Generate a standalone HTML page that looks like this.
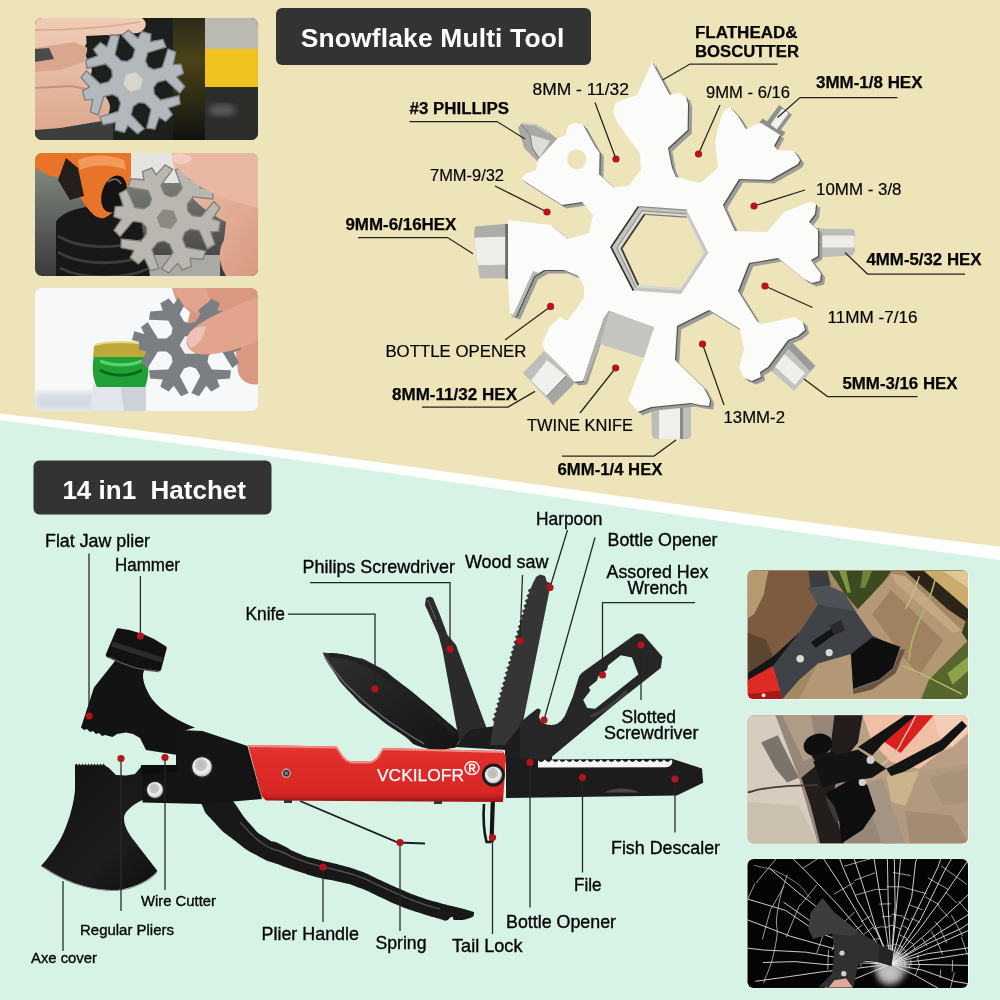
<!DOCTYPE html>
<html lang="en"><head><meta charset="utf-8"><title>Snowflake Multi Tool and 14 in1 Hatchet</title>
<style>
html,body{margin:0;padding:0;background:#eee4ba;}
body{width:1000px;height:1000px;overflow:hidden;}
svg{display:block;font-family:"Liberation Sans",sans-serif;}
</style></head><body>
<svg width="1000" height="1000" viewBox="0 0 1000 1000">
<rect x="0" y="0" width="1000" height="1000" fill="#eee4ba"/>
<path d="M0,413.6 C333.3,451.7 666.7,506.5 1000,546.6 L1000,1000 L0,1000 Z" fill="#ffffff"/>
<path d="M0,420.2 C333.3,462.3 666.7,515.3 1000,560 L1000,1000 L0,1000 Z" fill="#d6f3e6"/>
<rect x="276" y="8" width="315" height="57" rx="6" fill="#333333"/>
<g opacity="0.996"><text x="300.8" y="47.4" font-size="26.4" font-weight="700" fill="#fff" textLength="263.5" lengthAdjust="spacing">Snowflake Multi Tool</text></g>
<rect x="33.5" y="460.5" width="238" height="54" rx="6" fill="#333333"/>
<g opacity="0.996"><text x="62.4" y="498.6" font-size="26" font-weight="700" fill="#fff" xml:space="preserve">14 in1  Hatchet</text></g>
<defs><linearGradient id="bitg" x1="0" y1="0" x2="0" y2="1"><stop offset="0" stop-color="#c9c9c6"/><stop offset="0.25" stop-color="#efefec"/><stop offset="0.7" stop-color="#e4e4e0"/><stop offset="1" stop-color="#b4b4b0"/></linearGradient><linearGradient id="bitv" x1="0" y1="0" x2="1" y2="0"><stop offset="0" stop-color="#bdbdba"/><stop offset="0.3" stop-color="#f0f0ee"/><stop offset="0.7" stop-color="#e6e6e3"/><stop offset="1" stop-color="#b0b0ad"/></linearGradient></defs>
<path d="M475,226.4 L507,224 L508.5,278 L479.8,278.6 L476,252 L473.8,239.6 Z" fill="#b9b9b5"/>
<path d="M473.9,237.6 L507,236.6 L507.5,264.4 L477.7,265.2 L476,252 Z" fill="#eeeeea"/>
<path d="M475,226.4 L507,224 L507,236.6 L473.9,237.6 Z" fill="#adada9"/>
<rect x="505.2" y="224" width="3.2" height="55" fill="#6c6c68"/>
<path d="M815,228.5 L853,229 L855,232 L855,252 L852,255.5 L815,257.5 Z" fill="#bdbdb9"/>
<rect x="818" y="235.5" width="36.5" height="12" fill="#ececea"/>
<rect x="815" y="228" width="4.5" height="30" fill="#9a9a96"/>
<path d="M651,405 L691,402 L691,437 L687,439 L655,439 L652,436 Z" fill="#bdbdb9"/>
<rect x="659" y="405" width="21" height="34" fill="#efefec"/>
<rect x="680" y="404" width="3" height="35" fill="#8a8a86"/>
<path d="M759.5,122.5 L782.5,136.5 L785.5,132.5 L762.5,118.5 Z" fill="#8e8e8a"/>
<path d="M766.4,122.3 L779.2,105.1 L792,114.7 L779.2,131.9 Z" fill="#90908c"/>
<path d="M770.5,124.5 L782.2,108.6 L788.5,113.3 L776.8,129.2 Z" fill="#f1f1ee"/>
<path d="M787,338 L816,366 L794,391 L767,367 Z" fill="#c2c2be"/>
<path d="M780,350 L805,373 L795,385 L771,363 Z" fill="#eeeeea"/>
<path d="M790,340 L815,366 L810,371 L785,345 Z" fill="#9a9a96"/>
<path d="M544,351 L523,373 L553,405 L576,381.7 Z" fill="#bebeba"/>
<path d="M566,376 L576,381.7 L553,405 L547,396 Z" fill="#a6a6a2"/>
<path d="M547,360 L531,380.6 L547,396 L566,376 Z" fill="#f0f0ec"/>
<path d="M566,376 L547,396" stroke="#6e6e6a" stroke-width="1" fill="none"/>
<path d="M518,127.6 L521.6,123.4 L536,124 L548,131.2 L557.5,139 L538,162 L524,148 Z" fill="#a9a9a5"/>
<path d="M530,134.8 L550.4,140.8 L539.6,157.6 L532.4,148 Z" fill="#dcdcd8"/>
<path d="M521.6,124.5 L530,134.8 L532.4,148 L539,158" stroke="#7c7c78" stroke-width="1" fill="none"/>
<path d="M523,124 L536,125 L549,133" stroke="#c9c9c5" stroke-width="1.6" fill="none"/>
<path d="M652.0,62.0 L669.6,94.4 L680.0,93.0 L686.0,97.0 L688.0,104.0 L687.6,130.0 L668.0,148.0 L672.0,168.0 L676.0,177.0 L700.0,183.0 L718.0,168.0 L715.0,142.0 L718.0,128.0 L723.0,112.0 L730.0,107.0 L738.0,116.0 L746.0,129.0 L757.0,124.0 L762.0,123.6 L780.0,135.0 L774.0,146.0 L778.0,150.0 L794.0,151.0 L800.0,160.0 L798.0,164.0 L770.0,180.0 L739.0,179.0 L723.0,205.0 L735.0,231.0 L767.0,232.0 L784.0,212.0 L810.0,202.0 L816.0,204.0 L815.0,214.0 L809.0,222.0 L818.0,230.0 L818.0,256.0 L811.0,260.0 L821.0,274.0 L820.0,281.0 L812.0,283.0 L804.0,279.0 L778.0,258.0 L749.0,263.0 L738.0,291.0 L757.0,321.0 L762.0,324.0 L795.0,317.0 L803.0,322.0 L805.0,330.0 L798.0,336.0 L788.0,340.0 L768.0,367.0 L760.0,372.0 L761.0,377.0 L752.0,381.0 L744.0,378.0 L739.0,368.0 L744.0,350.0 L740.0,329.0 L709.0,310.0 L677.0,326.0 L675.0,360.0 L704.0,388.0 L710.0,400.0 L709.0,406.0 L700.0,405.0 L691.0,403.0 L651.0,407.0 L638.0,412.0 L628.0,400.0 L644.0,358.0 L654.0,328.0 L609.0,311.0 L604.0,318.0 L583.0,381.0 L574.0,382.0 L568.0,374.0 L545.0,351.0 L542.0,344.0 L550.0,326.0 L560.0,317.0 L566.0,320.0 L568.0,320.0 L584.0,298.0 L584.0,286.0 L578.0,276.0 L564.0,270.0 L544.0,270.0 L534.0,276.0 L516.0,316.0 L510.0,314.0 L508.0,278.0 L508.0,220.0 L551.0,225.0 L568.0,239.0 L589.0,233.0 L593.0,215.0 L582.0,202.0 L562.0,205.0 L521.0,179.0 L525.0,174.0 L536.0,170.0 L538.0,160.0 L557.0,139.0 L566.0,135.0 L568.0,126.0 L574.0,123.0 L582.8,124.6 L596.0,148.0 L599.6,152.8 L599.2,174.4 L614.0,187.6 L628.0,186.0 L641.0,170.0 L640.0,154.0 L618.0,124.0 L613.0,112.0 L615.6,102.4 L628.0,98.0 L637.0,95.6 Z" fill="#9c9c98" transform="translate(4.2,3.4)"/>
<path d="M652.0,62.0 L669.6,94.4 L680.0,93.0 L686.0,97.0 L688.0,104.0 L687.6,130.0 L668.0,148.0 L672.0,168.0 L676.0,177.0 L700.0,183.0 L718.0,168.0 L715.0,142.0 L718.0,128.0 L723.0,112.0 L730.0,107.0 L738.0,116.0 L746.0,129.0 L757.0,124.0 L762.0,123.6 L780.0,135.0 L774.0,146.0 L778.0,150.0 L794.0,151.0 L800.0,160.0 L798.0,164.0 L770.0,180.0 L739.0,179.0 L723.0,205.0 L735.0,231.0 L767.0,232.0 L784.0,212.0 L810.0,202.0 L816.0,204.0 L815.0,214.0 L809.0,222.0 L818.0,230.0 L818.0,256.0 L811.0,260.0 L821.0,274.0 L820.0,281.0 L812.0,283.0 L804.0,279.0 L778.0,258.0 L749.0,263.0 L738.0,291.0 L757.0,321.0 L762.0,324.0 L795.0,317.0 L803.0,322.0 L805.0,330.0 L798.0,336.0 L788.0,340.0 L768.0,367.0 L760.0,372.0 L761.0,377.0 L752.0,381.0 L744.0,378.0 L739.0,368.0 L744.0,350.0 L740.0,329.0 L709.0,310.0 L677.0,326.0 L675.0,360.0 L704.0,388.0 L710.0,400.0 L709.0,406.0 L700.0,405.0 L691.0,403.0 L651.0,407.0 L638.0,412.0 L628.0,400.0 L644.0,358.0 L654.0,328.0 L609.0,311.0 L604.0,318.0 L583.0,381.0 L574.0,382.0 L568.0,374.0 L545.0,351.0 L542.0,344.0 L550.0,326.0 L560.0,317.0 L566.0,320.0 L568.0,320.0 L584.0,298.0 L584.0,286.0 L578.0,276.0 L564.0,270.0 L544.0,270.0 L534.0,276.0 L516.0,316.0 L510.0,314.0 L508.0,278.0 L508.0,220.0 L551.0,225.0 L568.0,239.0 L589.0,233.0 L593.0,215.0 L582.0,202.0 L562.0,205.0 L521.0,179.0 L525.0,174.0 L536.0,170.0 L538.0,160.0 L557.0,139.0 L566.0,135.0 L568.0,126.0 L574.0,123.0 L582.8,124.6 L596.0,148.0 L599.6,152.8 L599.2,174.4 L614.0,187.6 L628.0,186.0 L641.0,170.0 L640.0,154.0 L618.0,124.0 L613.0,112.0 L615.6,102.4 L628.0,98.0 L637.0,95.6 Z" fill="#55554f" transform="translate(1.2,1)"/>
<path d="M652.0,62.0 L669.6,94.4 L680.0,93.0 L686.0,97.0 L688.0,104.0 L687.6,130.0 L668.0,148.0 L672.0,168.0 L676.0,177.0 L700.0,183.0 L718.0,168.0 L715.0,142.0 L718.0,128.0 L723.0,112.0 L730.0,107.0 L738.0,116.0 L746.0,129.0 L757.0,124.0 L762.0,123.6 L780.0,135.0 L774.0,146.0 L778.0,150.0 L794.0,151.0 L800.0,160.0 L798.0,164.0 L770.0,180.0 L739.0,179.0 L723.0,205.0 L735.0,231.0 L767.0,232.0 L784.0,212.0 L810.0,202.0 L816.0,204.0 L815.0,214.0 L809.0,222.0 L818.0,230.0 L818.0,256.0 L811.0,260.0 L821.0,274.0 L820.0,281.0 L812.0,283.0 L804.0,279.0 L778.0,258.0 L749.0,263.0 L738.0,291.0 L757.0,321.0 L762.0,324.0 L795.0,317.0 L803.0,322.0 L805.0,330.0 L798.0,336.0 L788.0,340.0 L768.0,367.0 L760.0,372.0 L761.0,377.0 L752.0,381.0 L744.0,378.0 L739.0,368.0 L744.0,350.0 L740.0,329.0 L709.0,310.0 L677.0,326.0 L675.0,360.0 L704.0,388.0 L710.0,400.0 L709.0,406.0 L700.0,405.0 L691.0,403.0 L651.0,407.0 L638.0,412.0 L628.0,400.0 L644.0,358.0 L654.0,328.0 L609.0,311.0 L604.0,318.0 L583.0,381.0 L574.0,382.0 L568.0,374.0 L545.0,351.0 L542.0,344.0 L550.0,326.0 L560.0,317.0 L566.0,320.0 L568.0,320.0 L584.0,298.0 L584.0,286.0 L578.0,276.0 L564.0,270.0 L544.0,270.0 L534.0,276.0 L516.0,316.0 L510.0,314.0 L508.0,278.0 L508.0,220.0 L551.0,225.0 L568.0,239.0 L589.0,233.0 L593.0,215.0 L582.0,202.0 L562.0,205.0 L521.0,179.0 L525.0,174.0 L536.0,170.0 L538.0,160.0 L557.0,139.0 L566.0,135.0 L568.0,126.0 L574.0,123.0 L582.8,124.6 L596.0,148.0 L599.6,152.8 L599.2,174.4 L614.0,187.6 L628.0,186.0 L641.0,170.0 L640.0,154.0 L618.0,124.0 L613.0,112.0 L615.6,102.4 L628.0,98.0 L637.0,95.6 Z" fill="#fbfbf9"/>
<path d="M511.6,318.2 L516,316 L534,276 L538,272.5 L533,271 L527.2,284 Z" fill="#b6b6b2"/>
<path d="M609,311 L654,327 L644,358 L600,344 Z" fill="#c4c4c0"/>
<path d="M609,311 L600,344 L585,382 L583,381 L604,318 Z" fill="#b2b2ae"/>
<path d="M611.0,247.2 L638.3,206.6 L686.6,210.1 L708.3,252.8 L681.0,294.1 L633.4,290.6 Z" fill="#c3c3bf"/>
<path d="M638.3,206.6 L686.6,210.1" stroke="#8e8e8a" stroke-width="1.2" fill="none"/>
<path d="M633.4,290.6 L611,247.2 L638.3,206.6" stroke="#2e2e2c" stroke-width="1.6" fill="none" stroke-linejoin="round"/>
<path d="M616.8,248.0 L641.8,210.8 L686.6,213.9 L705.6,252.8 L681.0,290.6 L636.1,287.5 Z" fill="#d6d6d2"/>
<path d="M636.1,287.5 L616.8,248.0 L641.8,210.8 L686.6,213.9" stroke="#8a8a86" stroke-width="1" fill="none"/>
<path d="M621.5,248.6 L644.6,214.3 L686.6,217.1 L703.4,252.8 L681.0,287.8 L638.3,285.0 Z" fill="#eee4ba"/>
<path d="M644.6,214.3 L686.6,217.1" stroke="#7c7c78" stroke-width="1.2" fill="none"/>
<path d="M638.3,285 L621.5,248.6 L644.6,214.3" stroke="#3c3c38" stroke-width="1.8" fill="none" stroke-linejoin="round"/>
<ellipse cx="576.8" cy="159.4" rx="9.6" ry="10.2" fill="#eee4ba"/>
<defs><linearGradient id="redg" x1="0" y1="0" x2="0" y2="1"><stop offset="0" stop-color="#e8403a"/><stop offset="0.12" stop-color="#e02f2c"/><stop offset="0.85" stop-color="#d82624"/><stop offset="1" stop-color="#9c1414"/></linearGradient><radialGradient id="rivet" cx="0.45" cy="0.4" r="0.62"><stop offset="0" stop-color="#b9b9b9"/><stop offset="0.45" stop-color="#c6c6c6"/><stop offset="0.6" stop-color="#f4f4f4"/><stop offset="0.85" stop-color="#d2d2d2"/><stop offset="1" stop-color="#8a8a8a"/></radialGradient><linearGradient id="knifeg" x1="0" y1="0" x2="1" y2="1"><stop offset="0" stop-color="#303031"/><stop offset="0.6" stop-color="#1e1e1f"/><stop offset="1" stop-color="#141414"/></linearGradient><linearGradient id="axeg" x1="0" y1="0" x2="1" y2="1"><stop offset="0" stop-color="#111"/><stop offset="0.6" stop-color="#1d1d1f"/><stop offset="1" stop-color="#0c0c0c"/></linearGradient></defs>
<path d="M222.0,790.0 C225.3,793.3 222.7,788.7 232.0,800.0 C241.3,811.3 238.7,811.3 250.0,824.0 C261.3,836.7 256.0,831.3 266.0,838.0 C276.0,844.7 268.7,838.7 280.0,844.0 C291.3,849.3 286.7,848.7 300.0,854.0 C313.3,859.3 306.7,856.3 320.0,860.0 C333.3,863.7 326.7,861.3 340.0,865.0 C353.3,868.7 346.7,866.0 360.0,871.0 C373.3,876.0 366.7,874.0 380.0,880.0 C393.3,886.0 386.7,883.3 400.0,889.0 C413.3,894.7 406.7,892.3 420.0,897.0 C433.3,901.7 426.7,899.3 440.0,903.0 C453.3,906.7 448.7,905.0 460.0,908.0 C471.3,911.0 469.3,910.7 474.0,912.0 L474.0,914.0 C472.7,915.3 476.0,916.0 470.0,918.0 C464.0,920.0 462.0,920.3 456.0,920.0 C450.0,919.7 455.3,916.8 452.0,917.0 C448.7,917.2 450.0,919.8 446.0,920.5 C442.0,921.2 448.7,921.5 440.0,919.0 C431.3,916.5 433.3,917.3 420.0,913.0 C406.7,908.7 413.3,911.3 400.0,906.0 C386.7,900.7 393.3,903.0 380.0,897.0 C366.7,891.0 373.3,893.0 360.0,888.0 C346.7,883.0 353.3,885.3 340.0,882.0 C326.7,878.7 333.3,881.3 320.0,878.0 C306.7,874.7 313.3,876.3 300.0,872.0 C286.7,867.7 294.0,870.3 280.0,865.0 C266.0,859.7 273.3,864.3 258.0,856.0 C242.7,847.7 248.7,851.3 234.0,840.0 C219.3,828.7 224.7,833.7 214.0,822.0 C203.3,810.3 206.7,815.7 202.0,805.0 C197.3,794.3 200.7,795.0 200.0,790.0 Z" fill="#181818"/>
<path d="M240.0,822.0 C247.3,829.0 248.0,833.0 262.0,843.0 C276.0,853.0 269.3,846.3 282.0,852.0 C294.7,857.7 287.3,855.3 300.0,860.0 C312.7,864.7 306.7,862.3 320.0,866.0 C333.3,869.7 326.7,867.3 340.0,871.0 C353.3,874.7 346.7,872.0 360.0,877.0 C373.3,882.0 366.7,880.0 380.0,886.0 C393.3,892.0 386.7,889.3 400.0,895.0 C413.3,900.7 406.7,898.3 420.0,903.0 C433.3,907.7 433.3,907.0 440.0,909.0" stroke="#4c4e52" stroke-width="1.5" fill="none"/>
<path d="M300,801 L398,842.5 L425,843.5" stroke="#1c1c1c" stroke-width="1.8" fill="none"/>
<path d="M322.5,652.5 C331.7,653.7 332.5,651.8 350.0,656.0 C367.5,660.2 358.3,656.2 375.0,665.0 C391.7,673.8 383.3,670.0 400.0,682.5 C416.7,695.0 408.3,688.7 425.0,702.5 C441.7,716.3 437.3,713.2 450.0,724.0 C462.7,734.8 458.7,731.3 463.0,735.0 L455.0,748.0 C445.0,748.0 443.3,753.0 425.0,748.0 C406.7,743.0 416.7,744.0 400.0,733.0 C383.3,722.0 391.7,728.5 375.0,715.0 C358.3,701.5 364.2,707.5 350.0,692.5 C335.8,677.5 341.7,683.3 332.5,670.0 C323.3,656.7 325.8,658.3 322.5,652.5 Z" fill="url(#knifeg)"/>
<path d="M325.0,657.0 C329.3,663.0 328.3,663.3 338.0,675.0 C347.7,686.7 340.7,679.3 354.0,692.0 C367.3,704.7 362.0,700.3 378.0,713.0 C394.0,725.7 386.7,719.7 402.0,730.0 C417.3,740.3 416.7,739.3 424.0,744.0" stroke="#6a6e72" stroke-width="1.3" fill="none"/>
<path d="M330.0,655.0 C340.0,657.3 338.3,652.7 360.0,662.0 C381.7,671.3 371.7,666.3 395.0,683.0 C418.3,699.7 410.0,695.0 430.0,712.0 C450.0,729.0 446.7,726.7 455.0,734.0" stroke="#1f2022" stroke-width="4" fill="none"/>
<path d="M426,598 L430,596.5 L433,598 L440,615 L447.5,635 L456,645 L488,732 L476,748 L460,746 L442.5,650 L438.5,635 L425,605 Z" fill="#2b2b2c"/>
<path d="M428,600 L436,620" stroke="#666" stroke-width="1" fill="none"/>
<path d="M455,747 L470,730 L520,722 L552,728 L552,762 L505,762 L505,750 Z" fill="#1d1d1e"/>
<path d="M540.0,574.5 L545.0,576.0 L547.0,582.0 L551.0,583.0 L523.0,722.0 L505.0,745.0 L490.0,745.0 L494.0,722.0 L492.1,719.0 L495.4,716.8 L493.5,713.9 L496.8,711.7 L495.0,708.7 L498.3,706.5 L496.4,703.6 L499.7,701.4 L497.8,698.4 L501.1,696.2 L499.2,693.3 L502.5,691.1 L500.6,688.1 L504.0,685.9 L502.1,682.9 L505.4,680.8 L503.5,677.8 L506.8,675.6 L504.9,672.6 L508.2,670.5 L506.3,667.5 L509.7,665.3 L507.8,662.3 L511.1,660.2 L509.2,657.2 L512.5,655.0 L510.6,652.0 L513.9,649.8 L512.0,646.9 L515.3,644.7 L513.5,641.7 L516.8,639.5 L514.9,636.6 L518.2,634.4 L516.3,631.4 L519.6,629.2 L517.7,626.3 L521.0,624.1 L519.1,621.1 L522.5,618.9 L520.6,615.9 L523.9,613.8 L522.0,610.8 L525.3,608.6 L523.4,605.6 L526.7,603.5 L524.8,600.5 L528.2,598.3 L526.3,595.3 L529.6,593.2 L527.7,590.2 L531.0,588.0 L533.0,583.0 L536.0,577.0 Z" fill="#353536"/>
<path fill-rule="evenodd" d="M520,722.4 L529.6,714.4 L536.6,709 Q539.5,707.5 540.8,710.4 L539.2,716 Q539.5,721 542.4,722.4 Q549,726.5 556.8,724 Q562,721 564.8,716 L572.8,696.8 L579.2,676 Q581,673 584,671.2 L635.2,634.4 Q639,632.5 643.2,634.4 L662.4,656.8 L660.8,668 L616,703.2 L547.2,760.8 L520,760.8 Z M583.2,700 L590.4,690.4 L588.8,687.2 L596.8,680.8 L598.4,676 L607.2,669.6 L608,665.6 L620.8,655.2 L632,657.6 L638.4,674.4 L595.2,708.8 L587.2,708 Z" fill="#262627"/>
<path d="M592,716 C602,712 614,704 626,692" stroke="#3c3c3e" stroke-width="3.5" fill="none" stroke-linecap="round"/>
<path d="M506,757 L537,759.5 L672,758.8 L702,768.4 L703.2,782.8 L676.8,795.4 L506,798 Z" fill="#1c1c1d"/>
<path d="M538.0,767.6 L538.0,760.2 Q541.5,764.2 545.0,759.6 Q548.5,764.2 552.0,759.6 Q555.5,764.2 559.0,759.6 Q562.5,764.2 566.0,759.6 Q569.5,764.2 573.0,759.6 Q576.5,764.2 580.0,759.6 Q583.5,764.2 587.0,759.6 Q590.5,764.2 594.0,759.6 Q597.5,764.2 601.0,759.6 Q604.5,764.2 608.0,759.6 Q611.5,764.2 615.0,759.6 Q618.5,764.2 622.0,759.6 Q625.5,764.2 629.0,759.6 Q632.5,764.2 636.0,759.6 Q639.5,764.2 643.0,759.6 Q646.5,764.2 650.0,759.6 Q653.5,764.2 657.0,759.6 Q660.5,764.2 664.0,759.6 Q667.5,764.2 671.0,759.6 Q673.5,761 671.5,764.5 Q670,767 666,767.2 Z" fill="#f6f6f6"/>
<path d="M604,792.5 Q621,784.5 640,792.5 Z" fill="#48484a"/>
<path d="M493.5,780 L491.5,842" stroke="#141414" stroke-width="4.2" fill="none"/>
<path d="M491.5,842 L486.5,842 C484,832 483,818 484,804" stroke="#161616" stroke-width="2.6" fill="none" stroke-linejoin="round"/>
<path d="M248,745 L336.5,746.5 L342.5,755.5 C346,760 349,761.5 353,761.5 L368,761.5 C373,761.5 376,759 378.5,755.5 L383,748 L503,751 L506,757 L503,802 L266,800.5 L261.5,796 Z" fill="url(#redg)"/>
<g opacity="0.996"><text x="377" y="781.3" font-size="16.8" fill="#fff" stroke="#fff" stroke-width="0.25" textLength="87" lengthAdjust="spacingAndGlyphs">VCKILOFR</text>
<text x="464.2" y="775" font-size="21" fill="#fff" stroke="#fff" stroke-width="0.3">®</text></g>
<path d="M248.5,746 L336.5,747.5 L342.5,756.5 C346,761 349,762.5 353,762.5 L368,762.5 C373,762.5 376,760 378.5,756.5 L383,749 L503,752" stroke="#f08a80" stroke-width="2" fill="none"/>
<circle cx="286.3" cy="773.2" r="4.6" fill="#c9b4b0"/><circle cx="286.3" cy="773.2" r="3.4" fill="#3a3434"/><path d="M284.4,771.6 L288.2,774.8 M288,771.4 L284.6,775" stroke="#b8b0b0" stroke-width="0.9"/>
<rect x="284" y="800" width="8" height="3" fill="#333"/><rect x="434" y="801" width="8" height="3" fill="#333"/>
<circle cx="493.4" cy="775" r="11.5" fill="#1c1c1c"/><circle cx="493.4" cy="775" r="8.6" fill="url(#rivet)"/>
<path d="M75,765 L76.5,763.6 L78.0,765.4 L79.5,763.6 L81.0,765.4 L82.5,763.6 L84.0,765.4 L85.5,763.6 L87.0,765.4 L88.5,763.6 L90.0,765.4 L91.5,763.6 L93.0,765.4 L94.5,763.6 L96.0,765.4 L97.5,763.6 L99.0,765.4 L100.5,763.6 L102.0,765.4 L103.5,763.6 L105.0,765.4  L109,768 L116,775 L126,775.5 L135,774 L142.5,765 L177,765 L177,800 L142.5,800 C132,805 124,812 124,818 C124,826 128,832 132,838 L157.5,871 C150,880 135,887 122,889.5 C100,892 70,886 41,866 C48,858 58,845 63,834 C70,818 74,802 75,790 Z" fill="url(#axeg)"/>
<path d="M43,867 C70,886 100,892.5 122,890 C135,888 150,881 157,872" stroke="#8a8d90" stroke-width="1.1" fill="none"/>
<path d="M121,776 L121,890" stroke="#2c2c2e" stroke-width="1.5" fill="none"/>
<path d="M115,661 L94,687.5 L81,727.5 L84,730 L87,729 L90,732 L93,731 L96,734 L99,733 L102,736 L105,735 L112.5,737 L117,734 L126,732.5 L133,734 L140,738 L143,744 L146,750 L177.5,755 L177.5,732.5 L195,727.5 C180,722 162,712 152,699 C146,690 143,682 143,676 C143,670 146,668 149,668 L120,655 Z" fill="#131313"/>
<path d="M118.5,630.5 Q143,633 164.5,648 L159,669 Q132,668 108,655 Z" fill="#121212" stroke="#121212" stroke-width="4.5" stroke-linejoin="round"/>
<path d="M109,657 Q132,670 159,671.5" stroke="#5c5e60" stroke-width="1.4" fill="none"/>
<path d="M112,644 Q137,652 162,660" stroke="#2c2c2e" stroke-width="5" fill="none"/>
<path d="M180,730 L202.5,731 L247.5,746 L262,799 L205,804 L142.5,802.5 L142.5,775 L176,770 L176,732 Z" fill="#141414"/>
<path d="M141,765 L177,765 L177,771 L141,775 Z" fill="#0d0d0d"/>
<circle cx="202" cy="767" r="11.5" fill="#222"/><circle cx="202" cy="767" r="9.8" fill="url(#rivet)"/>
<circle cx="155" cy="790" r="9.6" fill="#222"/><circle cx="155" cy="790" r="8" fill="url(#rivet)"/>
<defs><clipPath id="cp1"><rect x="35" y="18" width="223" height="122" rx="7"/></clipPath><clipPath id="cp2"><rect x="35" y="153" width="223" height="123" rx="7"/></clipPath><clipPath id="cp3"><rect x="35" y="288" width="223" height="123" rx="7"/></clipPath><clipPath id="cp4"><rect x="747.5" y="570" width="220.5" height="129" rx="6"/></clipPath><clipPath id="cp5"><rect x="747.5" y="715" width="220.5" height="128.5" rx="6"/></clipPath><clipPath id="cp6"><rect x="747.5" y="859" width="220.5" height="129" rx="6"/></clipPath><linearGradient id="skin" x1="0" y1="0" x2="0" y2="1"><stop offset="0" stop-color="#f0cdb8"/><stop offset="1" stop-color="#dca98e"/></linearGradient><linearGradient id="skin2" x1="0" y1="0" x2="1" y2="1"><stop offset="0" stop-color="#efc4ae"/><stop offset="1" stop-color="#d89a80"/></linearGradient><filter id="bl1" x="-10%" y="-10%" width="120%" height="120%"><feGaussianBlur stdDeviation="1.2"/></filter><filter id="bl3" x="-10%" y="-10%" width="120%" height="120%"><feGaussianBlur stdDeviation="3"/></filter></defs>
<g clip-path="url(#cp1)">
<rect x="35" y="18" width="224" height="123" fill="#1d1f1d"/>
<defs><linearGradient id="olv" x1="0" y1="0" x2="0" y2="1"><stop offset="0" stop-color="#2c2a18"/><stop offset="0.35" stop-color="#4a4218"/><stop offset="0.7" stop-color="#2a2814"/><stop offset="1" stop-color="#111"/></linearGradient></defs>
<rect x="173" y="18" width="33" height="123" fill="url(#olv)"/>
<rect x="205" y="18" width="54" height="32" fill="#babab3"/>
<rect x="205" y="49" width="54" height="39" fill="#f0c21e"/>
<rect x="205" y="87" width="54" height="54" fill="#2b2d2b"/>
<ellipse cx="222" cy="110" rx="14" ry="6" fill="#5a5a58" filter="url(#bl3)"/>
<rect x="35" y="122" width="78" height="19" fill="#3c3e3e"/>
<rect x="35" y="50" width="16" height="14" fill="#4a4c4c"/>
<path d="M35,18 L142,18 C148,22 147,30 138,33 L100,36 L86,44 C82,52 88,60 92,70 L88,88 C100,90 108,96 110,106 C110,116 104,122 96,122 L60,128 L35,130 Z" fill="url(#skin)"/>
<path d="M35,48 L74,42 L88,48 L84,62 L60,70 L35,72 Z" fill="#d9a78e"/>
<path d="M35,88 L70,86 L92,90" stroke="#c99278" stroke-width="2" fill="none"/>
<path d="M35,49 L49,48 L54,59 L35,62 Z" fill="#4a4a48"/>
<path d="M86,36 L108,35 L106,50 L88,57 Z" fill="#1d1f1d"/>
<path d="M35,30 C70,30 110,27 140,22" stroke="#d8a890" stroke-width="1.5" fill="none"/>
<g transform="translate(133,82) rotate(-15)"><path d="M23.5,-6.6 L32.1,-6.6 L42.3,-22.9 L49.0,-17.8 L43.4,-6.4 L51.0,-4.8 L51.0,4.8 L43.4,6.4 L49.0,17.8 L42.3,22.9 L32.1,6.6 L23.5,6.6 L18.6,10.7 L17.5,17.0 L21.8,24.5 L41.0,25.2 L39.9,33.5 L27.2,34.4 L29.7,41.7 L21.3,46.6 L16.2,40.7 L9.0,51.3 L1.3,48.1 L10.3,31.1 L6.0,23.6 L0.0,21.4 L-6.0,23.6 L-10.3,31.1 L-1.3,48.1 L-9.0,51.3 L-16.2,40.7 L-21.3,46.6 L-29.7,41.7 L-27.2,34.4 L-39.9,33.5 L-41.0,25.2 L-21.8,24.5 L-17.5,17.0 L-18.6,10.7 L-23.5,6.6 L-32.1,6.6 L-42.3,23.0 L-49.0,17.9 L-43.4,6.4 L-51.0,4.8 L-51.0,-4.8 L-43.4,-6.4 L-49.0,-17.8 L-42.3,-22.9 L-32.1,-6.6 L-23.5,-6.6 L-18.6,-10.7 L-17.5,-17.0 L-21.8,-24.5 L-41.0,-25.2 L-39.9,-33.5 L-27.2,-34.4 L-29.7,-41.7 L-21.3,-46.6 L-16.2,-40.7 L-9.0,-51.3 L-1.3,-48.1 L-10.3,-31.1 L-6.0,-23.6 L-0.0,-21.4 L6.0,-23.6 L10.3,-31.1 L1.3,-48.1 L9.0,-51.3 L16.2,-40.7 L21.3,-46.6 L29.7,-41.7 L27.2,-34.4 L39.9,-33.5 L41.0,-25.2 L21.8,-24.5 L17.5,-17.0 L18.6,-10.7 Z" fill="#b3b8bc" stroke="#7d8286" stroke-width="1.4" stroke-linejoin="round"/><path d="M10.2,0.0 L5.1,8.8 L-5.1,8.8 L-10.2,0.0 L-5.1,-8.8 L5.1,-8.8 Z" fill="#d8d6ca"/></g>
</g>
<g clip-path="url(#cp2)">
<defs><linearGradient id="p2bg" x1="0" y1="0" x2="0" y2="1"><stop offset="0" stop-color="#8a9486"/><stop offset="0.4" stop-color="#6a6e6a"/><stop offset="1" stop-color="#3a3a3a"/></linearGradient></defs>
<rect x="35" y="153" width="224" height="123" fill="url(#p2bg)"/>
<rect x="130" y="153" width="50" height="30" fill="#e4e4e0"/>
<rect x="140" y="255" width="80" height="21" fill="#a9a9a6"/>
<path d="M56,222 C66,204 120,200 140,214 L150,276 L56,276 Z" fill="#181818"/>
<path d="M58,236 C80,250 120,250 146,238 M58,252 C80,266 124,266 148,254 M60,268 C84,280 124,280 150,268" stroke="#3c3c3c" stroke-width="3" fill="none"/>
<path d="M35,153 L131,153 L131,176 C126,196 116,214 104,218 C96,220 88,210 82,200 L62,178 L50,176 L35,168 Z" fill="#e8742a"/>
<path d="M66,158 L78,168 L84,196 L70,200 L58,180 Z" fill="#241f1c"/>
<path d="M78,160 C90,154 110,154 124,160 L126,170 C112,164 92,164 80,170 Z" fill="#f29a5a"/>
<ellipse cx="114" cy="194" rx="12" ry="19" transform="rotate(18 114 194)" fill="#141414"/>
<path d="M108,182 C112,178 118,178 121,184" stroke="#777" stroke-width="1.5" fill="none"/>
<path d="M172,153 L259,153 L259,276 L226,276 C218,262 218,250 224,240 L226,222 C210,214 196,204 186,190 C176,176 172,164 172,153 Z" fill="url(#skin2)"/>
<g transform="translate(167,219) rotate(8)"><path d="M24.4,-6.9 L33.4,-6.9 L44.0,-23.9 L50.9,-18.5 L45.0,-6.6 L53.0,-5.0 L53.0,5.0 L45.0,6.6 L50.9,18.5 L44.0,23.9 L33.4,6.9 L24.4,6.9 L19.3,11.1 L18.2,17.7 L22.7,25.5 L42.6,26.2 L41.5,34.8 L28.3,35.7 L30.9,43.4 L22.1,48.4 L16.8,42.3 L9.4,53.3 L1.3,50.0 L10.7,32.4 L6.2,24.6 L0.0,22.3 L-6.2,24.6 L-10.7,32.4 L-1.3,50.0 L-9.4,53.3 L-16.8,42.3 L-22.1,48.4 L-30.9,43.4 L-28.3,35.7 L-41.5,34.8 L-42.6,26.2 L-22.7,25.5 L-18.2,17.7 L-19.3,11.1 L-24.4,6.9 L-33.4,6.9 L-44.0,23.9 L-50.9,18.6 L-45.0,6.6 L-53.0,5.0 L-53.0,-5.0 L-45.0,-6.6 L-50.9,-18.5 L-44.0,-23.8 L-33.4,-6.9 L-24.4,-6.9 L-19.3,-11.1 L-18.2,-17.7 L-22.7,-25.5 L-42.6,-26.2 L-41.5,-34.8 L-28.3,-35.7 L-30.9,-43.4 L-22.1,-48.4 L-16.8,-42.3 L-9.4,-53.3 L-1.3,-50.0 L-10.7,-32.4 L-6.2,-24.6 L-0.0,-22.3 L6.2,-24.6 L10.7,-32.4 L1.3,-50.0 L9.4,-53.3 L16.8,-42.3 L22.1,-48.4 L30.9,-43.4 L28.3,-35.7 L41.5,-34.8 L42.6,-26.2 L22.7,-25.5 L18.2,-17.7 L19.3,-11.1 Z" fill="#bab6b0" stroke="#86827c" stroke-width="1.4" stroke-linejoin="round"/><path d="M10.6,0.0 L5.3,9.2 L-5.3,9.2 L-10.6,0.0 L-5.3,-9.2 L5.3,-9.2 Z" fill="#8c8882"/></g>
<path d="M172,153 L259,153 L259,208 C240,204 214,196 196,184 C182,174 172,164 172,157 Z" fill="#e9b8a2"/>
<path d="M172,156 C176,152 186,152 192,158 C190,164 180,166 174,162 Z" fill="#f3cdc0"/>
</g>
<g clip-path="url(#cp3)">
<rect x="35" y="288" width="224" height="123" fill="#f7f8f9"/>
<rect x="35" y="392" width="70" height="19" fill="#d4dbe2" filter="url(#bl3)"/>
<path d="M93,384 L146,384 L146,411 L90,411 Z" fill="#e3e6ea"/>
<path d="M120,384 L146,384 L146,411 L124,411 Z" fill="#cfd3d8"/>
<path d="M94,355 L147,355 C149,366 149,378 145,387 L97,387 C92,378 92,366 94,355 Z" fill="#20a035"/>
<path d="M100,370 C112,377 130,377 142,370" stroke="#0c6a1c" stroke-width="3" fill="none"/>
<path d="M100,361 C112,366 130,366 142,361" stroke="#58d468" stroke-width="3" fill="none"/>
<path d="M94,346 C105,341 136,341 147,346 L147,357 L93,357 Z" fill="#c0a73a"/>
<path d="M95,345 C106,341 135,341 146,345" stroke="#e6d98a" stroke-width="2" fill="none"/>
<path d="M172,288 L259,288 L259,384 C248,386 240,380 238,372 L236,352 L200,352 L186,330 L190,312 L176,300 Z" fill="#d9987f"/>
<g transform="translate(190,345) rotate(0)"><path d="M23.5,-6.6 L32.1,-6.6 L42.3,-22.9 L49.0,-17.8 L43.4,-6.4 L51.0,-4.8 L51.0,4.8 L43.4,6.4 L49.0,17.8 L42.3,22.9 L32.1,6.6 L23.5,6.6 L18.6,10.7 L17.5,17.0 L21.8,24.5 L41.0,25.2 L39.9,33.5 L27.2,34.4 L29.7,41.7 L21.3,46.6 L16.2,40.7 L9.0,51.3 L1.3,48.1 L10.3,31.1 L6.0,23.6 L0.0,21.4 L-6.0,23.6 L-10.3,31.1 L-1.3,48.1 L-9.0,51.3 L-16.2,40.7 L-21.3,46.6 L-29.7,41.7 L-27.2,34.4 L-39.9,33.5 L-41.0,25.2 L-21.8,24.5 L-17.5,17.0 L-18.6,10.7 L-23.5,6.6 L-32.1,6.6 L-42.3,23.0 L-49.0,17.9 L-43.4,6.4 L-51.0,4.8 L-51.0,-4.8 L-43.4,-6.4 L-49.0,-17.8 L-42.3,-22.9 L-32.1,-6.6 L-23.5,-6.6 L-18.6,-10.7 L-17.5,-17.0 L-21.8,-24.5 L-41.0,-25.2 L-39.9,-33.5 L-27.2,-34.4 L-29.7,-41.7 L-21.3,-46.6 L-16.2,-40.7 L-9.0,-51.3 L-1.3,-48.1 L-10.3,-31.1 L-6.0,-23.6 L-0.0,-21.4 L6.0,-23.6 L10.3,-31.1 L1.3,-48.1 L9.0,-51.3 L16.2,-40.7 L21.3,-46.6 L29.7,-41.7 L27.2,-34.4 L39.9,-33.5 L41.0,-25.2 L21.8,-24.5 L17.5,-17.0 L18.6,-10.7 Z" fill="#7b7f84"/><path d="M10.2,0.0 L5.1,8.8 L-5.1,8.8 L-10.2,0.0 L-5.1,-8.8 L5.1,-8.8 Z" fill="#f2f2f2"/></g>
<rect x="133" y="333" width="14" height="9" fill="#7b7f84" transform="rotate(15 140 337)"/>
<path d="M187,338 C190,326 210,316 259,296 L259,340 C240,350 214,356 198,354 C190,352 185,346 187,338 Z" fill="#e2a48d"/>
<path d="M187,340 C188,332 196,326 206,326 C204,338 198,346 190,348 Z" fill="#eec3b6"/>
<path d="M172,288 L206,288 L210,300 L196,312 L184,306 Z" fill="#e2a48d"/>
</g>
<rect x="746.6" y="570" width="222.6" height="130" rx="6.5" fill="#f4f5ee"/>
<g clip-path="url(#cp4)">
<rect x="747" y="570" width="222" height="130" fill="#a48764"/>
<path d="M747.6,571.0 L810.8,571.0 L817.9,604.5 L799.0,632.8 L773.0,656.4 L747.6,672.9 Z" fill="#7d5b41"/>
<path d="M747.6,571.0 L768.3,571.0 L763.6,595.0 L754.2,613.9 L747.6,618.6 Z" fill="#b59a70"/>
<path d="M747.6,632.8 L766.0,639.9 L773.0,656.4 L747.6,672.9 Z" fill="#5c4632"/>
<path d="M829.7,571.0 L891.1,571.0 L881.6,585.6 L858.0,609.2 L843.8,592.7 Z" fill="#3b4a20"/>
<path d="M839.1,571.0 L846.2,571.0 L850.9,592.7 L847.4,592.7 Z" fill="#7f9444"/>
<path d="M862.7,571.0 L872.2,571.0 L865.1,588.0 L860.4,588.0 Z" fill="#6e8438"/>
<path d="M858.0,609.2 L891.1,573.8 L905.2,576.2 L961.9,630.4 L966.6,642.2 L928.8,680.0 L919.4,698.9 L799.0,698.9 L817.9,663.5 Z" fill="#b49774"/>
<path d="M891.1,573.8 L905.2,576.2 L961.9,630.4 L952.4,632.8 L895.8,583.2 Z" fill="#c4a884"/>
<path d="M872.2,613.9 L891.1,590.3 L943.0,639.9 L919.4,675.3 L902.9,656.4 Z" fill="#a08260"/>
<path d="M905.2,571.0 L924.1,571.0 L968.5,609.2 L968.5,623.4 L947.7,609.2 Z" fill="#2c2418"/>
<path d="M924.1,571.0 L968.5,571.0 L968.5,609.2 Z" fill="#c9ab6c"/>
<path d="M943.0,571.0 L968.5,571.0 L968.5,588.0 Z" fill="#dcc890"/>
<path d="M928.8,680.0 L968.5,639.9 L968.5,698.9 L921.7,698.9 Z" fill="#56662c"/>
<path d="M947.7,672.9 L968.5,656.4 L968.5,670.6 L952.4,684.7 Z" fill="#8ea24c"/>
<path d="M966.6,618.6 L968.5,618.6 L968.5,642.2 L961.9,632.8 Z" fill="#33401c"/>
<path d="M937.1,571.4 C934.3,580.9 936.3,579.3 928.8,599.8 C921.3,620.2 921.3,612.4 914.7,632.8 C908.0,653.3 910.7,651.7 908.8,661.1" stroke="#a9b86a" stroke-width="1.6" fill="none"/>
<path d="M919.4,576.2 C917.0,582.5 917.0,584.0 912.3,595.0 C907.6,606.1 907.6,604.5 905.2,609.2" stroke="#c8c088" stroke-width="1.2" fill="none"/>
<path d="M902.9,665.8 C908.4,668.2 906.0,666.6 919.4,672.9 C932.7,679.2 928.8,677.6 943.0,684.7 C957.1,691.8 955.6,691.0 961.9,694.2" stroke="#b8c070" stroke-width="1.3" fill="none"/>
<path d="M850.9,654.0 L905.2,649.3 L895.8,672.9 L872.2,689.4 L853.3,694.2 Z" fill="#6a5640"/>
<path d="M747.6,672.9 L773.0,656.4 L799.0,632.8 L808.4,639.9 L775.4,668.2 L747.6,684.7 Z" fill="#161616"/>
<path d="M747.6,680.0 L773.0,665.8 L782.5,698.9 L747.6,698.9 Z" fill="#df2a26"/>
<path d="M747.6,694.2 L780.1,690.6 L782.5,698.9 L747.6,698.9 Z" fill="#a81814"/>
<path d="M808.4,571.0 L827.3,571.0 L830.9,585.6 L810.8,589.8 Z" fill="#3a3e42"/>
<path d="M808.4,588.0 L827.3,585.6 L843.8,592.7 L855.6,611.6 L872.2,635.2 L881.6,639.9 L850.9,654.0 L817.9,663.5 L799.0,680.0 L782.5,698.9 L773.0,665.8 L799.0,632.8 L817.9,604.5 Z" fill="#3f4347"/>
<path d="M808.4,588.0 L827.3,585.6 L843.8,592.7 L855.6,611.6 L817.9,604.5 Z" fill="#4e5256"/>
<path d="M810.8,642.2 L839.1,623.4 L843.8,628.1 L815.5,648.1 Z" fill="#141414"/>
<path d="M829.7,625.7 L841.5,619.8 L845.0,630.4 L834.4,635.2 Z" fill="#2a2a2a"/>
<path d="M872.2,637.5 L881.6,639.9 L900.5,647.0 L893.4,668.2 L879.2,680.0 L853.3,689.4 L850.9,654.0 Z" fill="#0f0f10"/>
<path d="M853.3,689.4 L879.2,680.0 L893.4,668.2 L900.5,647.0" stroke="#8a8a88" stroke-width="0.8" fill="none"/>
<circle cx="800.2" cy="658.8" r="3.8" fill="#d8d8d8"/><circle cx="829.2" cy="652.6" r="3.6" fill="#d8d8d8"/><circle cx="763.6" cy="695.3" r="2" fill="#ddd"/>
</g>
<rect x="746.6" y="714.4" width="222.6" height="130" rx="6.5" fill="#f4f5ee"/>
<g clip-path="url(#cp5)">
<rect x="747" y="715" width="222" height="129" fill="#b9a084"/>
<path d="M881.6,777.8 L968.5,763.6 L968.5,843.4 L891.1,843.4 Z" fill="#b29a80"/>
<path d="M886.3,775.4 L919.4,770.7 L905.2,806.1 L891.1,801.4 Z" fill="#c9b48c"/>
<path d="M928.8,777.8 L968.5,768.4 L968.5,801.4 L943.0,806.1 Z" fill="#a8927a"/>
<path d="M905.2,810.8 L952.4,815.6 L968.5,843.4 L909.9,843.4 Z" fill="#a48c74"/>
<path d="M747.6,715.3 L777.8,715.3 L799.0,777.8 L817.9,843.4 L747.6,843.4 Z" fill="#d7cdbf"/>
<path d="M747.6,801.4 L799.0,806.1 L817.9,843.4 L747.6,843.4 Z" fill="#cbbfae"/>
<path d="M761.2,742.4 L777.8,735.3 L799.0,777.8 L787.2,782.5 L775.4,768.4 Z" fill="#7a746c"/>
<path d="M775.4,715.3 L834.4,715.3 L853.3,768.4 L891.1,843.4 L817.9,843.4 L799.0,777.8 Z" fill="#97877a"/>
<path d="M782.5,715.3 L810.8,715.3 L817.9,754.2 L803.7,761.3 Z" fill="#b09c86"/>
<path d="M862.7,784.9 L881.6,777.8 L905.2,843.4 L881.6,843.4 Z" fill="#a39484"/>
<path d="M834.4,715.3 L862.7,715.3 L858.0,742.4 L839.1,766.0 L832.0,801.4 L843.8,843.4 L820.2,843.4 L810.8,806.1 L801.4,777.8 L829.7,754.2 Z" fill="#231e1b"/>
<path d="M862.7,715.3 L968.5,715.3 L968.5,733.0 L952.4,747.1 L940.6,751.8 L919.4,768.8 L891.1,761.8 L872.2,742.4 Z" fill="#efbfa6"/>
<path d="M933.5,715.3 L968.5,715.3 L968.5,730.6 L952.4,746.7 L938.3,735.3 Z" fill="#f4cdb8"/>
<path d="M881.6,740.0 L914.7,715.3 L933.5,715.3 L900.5,753.0 Z" fill="#d8211e"/>
<path d="M858.0,747.1 L905.2,715.3 L915.8,715.3 L884.0,742.4 L872.2,755.4 Z" fill="#141414"/>
<path d="M886.3,768.8 L940.6,740.0 L961.9,720.7 L967.0,725.9 L943.4,750.0 L905.2,771.2 L891.1,775.9 Z" fill="#141414"/>
<path d="M915.8,715.3 C912.3,721.9 913.5,721.6 905.2,735.3 C897.0,749.1 902.1,745.5 891.1,756.6 C880.0,767.6 887.1,762.1 872.2,768.4 C857.2,774.7 854.9,773.1 846.2,775.4" stroke="#d8c0b0" stroke-width="1.4" fill="none"/>
<ellipse cx="817.9" cy="744.8" rx="14.5" ry="11" fill="#0f0f0f" transform="rotate(-15 817.9 744.8)"/>
<path d="M810.8,754.2 L834.4,751.8 L839.1,761.3 L817.9,766.0 Z" fill="#151515"/>
<path d="M813.2,761.3 L858.0,749.5 L886.3,768.4 L872.2,777.8 L841.5,782.5 L822.6,787.2 Z" fill="#131313"/>
<path d="M825.0,794.3 L853.3,777.8 L867.4,784.9 L875.7,810.8 L862.7,829.7 L841.5,843.4 L839.1,820.3 Z" fill="#0e0e0e"/>
<path d="M825.0,794.3 L834.4,806.1 L839.1,820.3 L835.6,822.6 L827.3,803.8 Z" fill="#3a3a3a"/>
<circle cx="870.5" cy="760.1" r="4" fill="#cfcfcf"/><circle cx="862.3" cy="782.5" r="3.6" fill="#cfcfcf"/>
<path d="M747.6,792.4 C756.8,790.7 752.0,789.8 775.4,787.2 C798.8,784.7 803.7,785.7 817.9,784.9" stroke="#4a3a30" stroke-width="1.8" fill="none"/>
</g>
<rect x="746.6" y="858.6" width="222.6" height="130" rx="6.5" fill="#f4f5ee"/>
<g clip-path="url(#cp6)">
<rect x="747" y="859" width="222" height="130" fill="#050505"/>
<path d="M891.0,964.0 L859.0,962.9 L827.0,964.7 L795.0,961.6 L762.9,962.5 M891.0,964.0 L848.5,959.5 L806.4,952.2 L763.6,950.0 L721.2,945.1 M891.0,964.0 L840.5,950.5 L790.2,936.2 L741.2,917.4 L692.9,896.7 M891.0,964.0 L856.0,945.8 L818.6,932.9 L785.6,910.4 L747.4,899.0 M891.0,964.0 L863.8,949.1 L837.8,932.0 L808.9,920.1 L783.4,902.0 M891.0,964.0 L861.3,939.3 L829.7,916.9 L799.0,893.3 L769.5,868.3 M891.0,964.0 L863.4,934.6 L837.2,904.0 L809.3,874.8 L780.6,846.4 M891.0,964.0 L863.9,923.8 L838.9,882.2 L812.4,841.6 L790.8,798.0 M891.0,964.0 L876.4,931.0 L857.3,900.1 L842.7,866.9 L830.1,832.9 M891.0,964.0 L874.9,925.0 L862.7,884.6 L849.4,844.5 L833.2,805.6 M891.0,964.0 L885.5,927.5 L879.4,891.1 L873.4,854.7 L866.1,818.5 M891.0,964.0 L888.3,908.2 L887.3,852.4 L877.4,797.0 L884.3,740.7 M891.0,964.0 L895.1,906.9 L894.2,849.5 L897.2,792.2 L904.4,735.2 M891.0,964.0 L895.0,922.8 L898.7,881.7 L902.0,840.4 L914.9,800.3 M891.0,964.0 L900.1,930.3 L911.7,897.3 L915.6,862.2 L927.8,829.2 M891.0,964.0 L914.4,915.3 L938.1,866.8 L954.8,815.1 L978.2,766.4 M891.0,964.0 L920.8,919.0 L944.8,870.3 L971.9,823.6 L999.7,777.2 M891.0,964.0 L917.7,931.5 L942.6,897.6 L966.3,862.8 L995.8,832.5 M891.0,964.0 L924.9,935.1 L957.5,904.9 L989.5,873.9 L1023.3,845.0 M891.0,964.0 L915.6,948.4 L939.8,932.3 L964.6,917.0 L988.8,900.7 M891.0,964.0 L925.4,944.7 L961.5,928.4 L994.1,905.8 L1028.5,886.5 M891.0,964.0 L921.0,951.9 L950.5,938.5 L980.1,925.3 L1010.4,913.9 M891.0,964.0 L928.0,953.6 L966.2,948.2 L1003.2,937.9 L1039.3,923.7 M891.0,964.0 L928.7,959.6 L966.2,953.8 L1004.4,955.3 L1042.4,954.1 M891.0,964.0 L933.0,964.7 L975.0,965.5 L1017.0,968.7 L1059.0,969.2 M891.0,964.0 L922.7,970.2 L953.4,981.2 L985.4,986.6 L1017.7,990.2 M891.0,964.0 L916.6,976.1 L941.3,990.0 L966.8,1002.3 L992.7,1013.8 M891.0,964.0 L855.4,978.7 L818.5,990.0 L783.0,1005.0 L746.0,1015.9 M891.0,964.0 L857.1,968.3 L823.1,971.7 L789.2,976.6 L755.3,981.3" stroke="#efefef" stroke-width="0.95" fill="none" opacity="0.9"/>
<path d="M879.9,961.5 L881.8,960.0 M879.3,958.9 L879.4,956.8 M884.6,955.2 L888.2,954.4 M896.7,952.7 L900.7,954.3 M898.5,956.3 L901.1,959.1 M904.5,961.3 L905.5,964.3 M904.6,964.4 L905.3,966.4 M871.3,959.5 L874.3,955.0 M886.4,945.6 L892.2,945.8 M892.3,944.4 L897.0,944.2 M897.6,944.8 L902.2,946.8 M901.4,946.8 L906.5,952.0 M904.8,952.5 L907.9,956.4 M910.6,959.5 L911.2,964.7 M910.0,964.6 L909.0,967.8 M861.1,966.6 L860.1,959.3 M862.3,959.4 L864.0,952.0 M863.0,951.3 L866.6,944.0 M868.2,945.7 L874.9,938.3 M875.8,939.6 L880.6,938.1 M898.4,934.4 L906.9,938.3 M905.4,938.9 L914.1,944.5 M913.0,945.0 L915.6,949.6 M918.2,954.7 L917.8,958.7 M917.8,958.9 L919.6,966.3 M919.0,966.3 L915.3,976.0 M852.5,967.4 L851.3,959.7 M850.6,959.6 L852.0,951.7 M853.1,952.1 L855.6,946.9 M862.8,935.1 L873.4,926.9 M873.4,929.0 L881.7,926.5 M882.3,927.1 L888.6,927.1 M888.5,925.8 L894.2,925.1 M894.2,926.4 L901.5,929.2 M902.3,925.7 L909.4,929.4 M922.1,938.3 L926.8,946.0 M843.0,968.2 L844.3,957.6 M842.8,957.3 L847.9,943.2 M855.2,930.3 L862.6,924.8 M860.9,921.8 L871.0,915.8 M881.7,916.9 L891.5,916.1 M891.5,914.0 L903.2,916.3 M903.1,917.4 L909.8,920.4 M911.1,918.1 L919.8,922.3 M931.4,931.4 L936.6,940.7 M937.0,941.3 L942.6,954.5 M940.7,969.5 L940.1,978.0 M827.7,969.5 L828.5,949.7 M832.0,950.5 L835.9,940.2 M833.8,938.9 L844.0,922.1 M843.8,922.0 L854.9,911.9 M879.1,904.1 L890.8,903.8 M908.8,904.7 L922.8,910.0 M934.9,921.6 L941.6,929.3 M940.3,929.4 L946.9,943.0 M952.7,959.8 L952.2,972.0 M954.4,972.4 L949.5,991.7 M816.8,952.9 L825.6,928.0 M825.2,928.8 L832.7,916.6 M855.0,895.3 L875.9,889.3 M876.3,889.6 L886.8,889.4 M886.7,886.8 L902.8,886.8 M903.1,887.2 L926.6,893.7 M925.3,896.7 L939.0,904.7 M937.8,905.2 L948.2,917.3 M951.3,914.9 L962.8,936.2 M961.4,936.8 L967.3,954.6 M833.7,894.3 L854.2,882.4 M854.3,880.5 L875.0,872.8 M892.7,872.4 L910.9,875.6 M927.9,877.9 L948.4,889.5 M945.6,892.0 L956.6,903.0 M958.3,900.9 L970.0,914.3 M968.8,914.8 L977.5,933.6 M979.6,932.9 L982.2,946.7 M981.7,971.8 L978.4,988.3 M786.3,937.0 L799.7,904.6 M800.3,905.3 L817.0,884.6 M844.3,866.1 L880.1,856.1 M941.1,865.8 L966.9,884.4 M979.9,901.7 L992.7,928.1 M993.2,928.3 L999.2,958.5 M1001.3,958.4 L998.4,982.6 M762.3,939.6 L770.5,909.6 M770.8,909.4 L784.0,886.3 M802.6,868.5 L838.9,845.0 M837.5,842.0 L873.5,831.9 M924.8,835.3 L948.0,842.7 M947.3,845.8 L974.0,862.5 M974.6,862.4 L1002.8,895.1 M1002.4,896.6 L1011.9,915.9 M731.9,977.9 L731.7,944.8 M734.7,944.9 L746.4,903.0 M746.0,902.7 L754.8,883.6 M756.0,883.0 L790.3,841.7 M790.6,842.1 L821.3,821.3 M820.3,820.9 L847.5,810.8 M895.8,807.8 L919.1,811.0 M964.1,821.9 L992.5,840.9 M990.5,842.4 L1019.9,875.5 M1042.5,923.1 L1047.4,975.6 M1047.6,975.5 L1034.6,1027.0" stroke="#e4e4e4" stroke-width="0.8" fill="none" opacity="0.85"/>
<path d="M787.2,874.6 C784.1,886.4 781.7,886.4 777.8,910.0 C773.8,933.6 780.1,921.0 775.4,945.4 C770.7,969.8 767.5,970.6 763.6,983.2" stroke="#e0e0e0" stroke-width="0.9" fill="none" opacity="0.8"/>
<path d="M754.2,865.2 C765.2,869.1 768.3,865.9 787.2,877.0 C806.1,888.0 802.9,891.1 810.8,898.2" stroke="#e0e0e0" stroke-width="0.8" fill="none" opacity="0.7"/>
<circle cx="891" cy="966" r="17" fill="#ececec" opacity="0.6" filter="url(#bl3)"/>
<circle cx="889" cy="974" r="11" fill="#f0f0f0" opacity="0.5" filter="url(#bl3)"/>
<path d="M822.6,898.2 L834.4,912.4 L858.0,931.2 L881.6,945.4 L893.4,952.5 L891.1,965.5 L879.2,962.4 L867.4,960.0 L858.0,965.5 L853.3,987.4 L817.9,987.4 L832.0,973.7 L834.4,950.1 L832.0,933.6 L813.2,938.8 L808.4,928.9 L810.8,912.4 Z" fill="#2f3032"/>
<path d="M822.6,898.2 L834.4,912.4 L858.0,931.2 L850.9,936.0 L832.0,933.6 L813.2,938.8 L808.4,928.9 L810.8,912.4 Z" fill="#3c3d3f"/>
<path d="M879.2,945.4 L893.4,951.3 L891.5,966.2 L878.1,961.9 Z" fill="#242426"/>
<circle cx="842.0" cy="953.0" r="2.6" fill="#d0d0d0"/><circle cx="843.8" cy="973.7" r="2.6" fill="#d0d0d0"/>
<path d="M828.5,987.4 L834.4,980.3 L846.2,978.4 L852.8,987.4 Z" fill="#e2a898"/>
</g>
<g opacity="0.996">
<text x="695" y="37.5" font-size="16.8" font-weight="700" textLength="102.5" lengthAdjust="spacingAndGlyphs" fill="#050505" stroke="#050505" stroke-width="0.25">FLATHEAD&amp;</text>
<text x="695" y="56.5" font-size="16.8" font-weight="700" textLength="104" lengthAdjust="spacingAndGlyphs" fill="#050505" stroke="#050505" stroke-width="0.25">BOSCUTTER</text>
<path d="M777.5,64 L690,64 L662.5,80" stroke="#24241f" stroke-width="1.25" fill="none"/>
<text x="532.5" y="95" font-size="16.8" textLength="96.5" lengthAdjust="spacingAndGlyphs" fill="#050505" stroke="#050505" stroke-width="0.2">8MM - 11/32</text>
<path d="M595,102.5 L616,159" stroke="#24241f" stroke-width="1.25" fill="none"/>
<circle cx="616" cy="159" r="3.6" fill="#b4141a"/>
<text x="706" y="97.5" font-size="16.8" textLength="84" lengthAdjust="spacingAndGlyphs" fill="#050505" stroke="#050505" stroke-width="0.2">9MM - 6/16</text>
<path d="M720,105 L698.5,154" stroke="#24241f" stroke-width="1.25" fill="none"/>
<circle cx="698.5" cy="154" r="3.6" fill="#b4141a"/>
<text x="816" y="87.5" font-size="16.8" font-weight="700" textLength="106.5" lengthAdjust="spacingAndGlyphs" fill="#050505" stroke="#050505" stroke-width="0.25">3MM-1/8 HEX</text>
<path d="M897.5,97.5 L800,97.5 L777.5,117.5" stroke="#24241f" stroke-width="1.25" fill="none"/>
<text x="816" y="195" font-size="16.8" textLength="85.5" lengthAdjust="spacingAndGlyphs" fill="#050505" stroke="#050505" stroke-width="0.2">10MM - 3/8</text>
<path d="M805,190 L754,206" stroke="#24241f" stroke-width="1.25" fill="none"/>
<circle cx="754" cy="206" r="3.6" fill="#b4141a"/>
<text x="866.5" y="265" font-size="16.8" font-weight="700" textLength="115" lengthAdjust="spacingAndGlyphs" fill="#050505" stroke="#050505" stroke-width="0.25">4MM-5/32 HEX</text>
<path d="M965,274 L867.5,274 L845,252.5" stroke="#24241f" stroke-width="1.25" fill="none"/>
<text x="827.5" y="322.5" font-size="16.8" textLength="90" lengthAdjust="spacingAndGlyphs" fill="#050505" stroke="#050505" stroke-width="0.2">11MM -7/16</text>
<path d="M812.5,307.5 L765,286" stroke="#24241f" stroke-width="1.25" fill="none"/>
<circle cx="765" cy="286" r="3.6" fill="#b4141a"/>
<text x="842.5" y="389" font-size="16.8" font-weight="700" textLength="115" lengthAdjust="spacingAndGlyphs" fill="#050505" stroke="#050505" stroke-width="0.25">5MM-3/16 HEX</text>
<path d="M917.5,396.5 L827.5,396.5 L804,379" stroke="#24241f" stroke-width="1.25" fill="none"/>
<text x="723.5" y="422.5" font-size="16.8" textLength="61.5" lengthAdjust="spacingAndGlyphs" fill="#050505" stroke="#050505" stroke-width="0.2">13MM-2</text>
<path d="M724,405 L702.5,344" stroke="#24241f" stroke-width="1.25" fill="none"/>
<circle cx="702.5" cy="344" r="3.6" fill="#b4141a"/>
<text x="557.5" y="475" font-size="16.8" font-weight="700" textLength="105" lengthAdjust="spacingAndGlyphs" fill="#050505" stroke="#050505" stroke-width="0.25">6MM-1/4 HEX</text>
<path d="M562,456 L654,456 L676,440" stroke="#24241f" stroke-width="1.25" fill="none"/>
<text x="527" y="431" font-size="16.8" textLength="106" lengthAdjust="spacingAndGlyphs" fill="#050505" stroke="#050505" stroke-width="0.2">TWINE KNIFE</text>
<path d="M580,413 L615.6,368" stroke="#24241f" stroke-width="1.25" fill="none"/>
<circle cx="615.6" cy="368" r="3.6" fill="#b4141a"/>
<text x="409.5" y="113.8" font-size="16.8" font-weight="700" textLength="99.5" lengthAdjust="spacingAndGlyphs" fill="#050505" stroke="#050505" stroke-width="0.25">#3 PHILLIPS</text>
<path d="M409.5,121.5 L497,121.5 L525,139" stroke="#24241f" stroke-width="1.25" fill="none"/>
<text x="430" y="181" font-size="16.8" textLength="74" lengthAdjust="spacingAndGlyphs" fill="#050505" stroke="#050505" stroke-width="0.2">7MM-9/32</text>
<path d="M495,186 L547,212" stroke="#24241f" stroke-width="1.25" fill="none"/>
<circle cx="547" cy="212" r="3.6" fill="#b4141a"/>
<text x="345.4" y="230" font-size="16.8" font-weight="700" textLength="111" lengthAdjust="spacingAndGlyphs" fill="#050505" stroke="#050505" stroke-width="0.25">9MM-6/16HEX</text>
<path d="M358,237.5 L447.5,237.5 L473,253.7" stroke="#24241f" stroke-width="1.25" fill="none"/>
<text x="385.4" y="357" font-size="16.8" textLength="141" lengthAdjust="spacingAndGlyphs" fill="#050505" stroke="#050505" stroke-width="0.2">BOTTLE OPENER</text>
<path d="M505,340 L550.6,306.4" stroke="#24241f" stroke-width="1.25" fill="none"/>
<circle cx="550.6" cy="306.4" r="3.6" fill="#b4141a"/>
<text x="392" y="399.5" font-size="16.8" font-weight="700" textLength="125" lengthAdjust="spacingAndGlyphs" fill="#050505" stroke="#050505" stroke-width="0.25">8MM-11/32 HEX</text>
<path d="M422,407 L508,407 L535,391.4" stroke="#24241f" stroke-width="1.25" fill="none"/>
<text x="45" y="546.6" font-size="17.8" textLength="105" lengthAdjust="spacingAndGlyphs" fill="#050505" stroke="#050505" stroke-width="0.35">Flat Jaw plier</text>
<path d="M89,553.5 L89,716" stroke="#24241f" stroke-width="1.25" fill="none"/>
<circle cx="89" cy="716" r="3.6" fill="#b4141a"/>
<text x="115" y="570.6" font-size="17.8" textLength="65" lengthAdjust="spacingAndGlyphs" fill="#050505" stroke="#050505" stroke-width="0.35">Hammer</text>
<path d="M140.4,576 L140.4,636" stroke="#24241f" stroke-width="1.25" fill="none"/>
<circle cx="140.4" cy="636" r="3.6" fill="#b4141a"/>
<text x="245.4" y="619.5" font-size="17.8" textLength="39.6" lengthAdjust="spacingAndGlyphs" fill="#050505" stroke="#050505" stroke-width="0.35">Knife</text>
<path d="M288,614 L375,614 L375,689" stroke="#24241f" stroke-width="1.25" fill="none"/>
<circle cx="375" cy="689" r="3.6" fill="#b4141a"/>
<text x="302.5" y="572.5" font-size="17.8" textLength="152.5" lengthAdjust="spacingAndGlyphs" fill="#050505" stroke="#050505" stroke-width="0.35">Philips Screwdriver</text>
<path d="M310,582.5 L450,582.5 L450,649" stroke="#24241f" stroke-width="1.25" fill="none"/>
<circle cx="450" cy="649" r="3.6" fill="#b4141a"/>
<text x="465" y="567.5" font-size="17.8" textLength="83.5" lengthAdjust="spacingAndGlyphs" fill="#050505" stroke="#050505" stroke-width="0.35">Wood saw</text>
<path d="M522.5,575 L520,641" stroke="#24241f" stroke-width="1.25" fill="none"/>
<circle cx="520" cy="641" r="3.6" fill="#b4141a"/>
<text x="536" y="525" font-size="17.8" textLength="66.5" lengthAdjust="spacingAndGlyphs" fill="#050505" stroke="#050505" stroke-width="0.35">Harpoon</text>
<path d="M567.5,530 L550,587.5" stroke="#24241f" stroke-width="1.25" fill="none"/>
<circle cx="550" cy="587.5" r="3.6" fill="#b4141a"/>
<text x="607.5" y="546" font-size="17.8" textLength="110" lengthAdjust="spacingAndGlyphs" fill="#050505" stroke="#050505" stroke-width="0.35">Bottle Opener</text>
<path d="M595,537.5 L544,720" stroke="#24241f" stroke-width="1.25" fill="none"/>
<circle cx="544" cy="720" r="3.6" fill="#b4141a"/>
<text x="606.5" y="577.5" font-size="17.8" textLength="102" lengthAdjust="spacingAndGlyphs" fill="#050505" stroke="#050505" stroke-width="0.35">Assored Hex</text>
<text x="627.5" y="594" font-size="17.8" textLength="60" lengthAdjust="spacingAndGlyphs" fill="#050505" stroke="#050505" stroke-width="0.35">Wrench</text>
<path d="M695,602.5 L602.5,602.5 L602.5,675" stroke="#24241f" stroke-width="1.25" fill="none"/>
<circle cx="602.5" cy="675" r="3.6" fill="#b4141a"/>
<path d="M641,645 L641,700" stroke="#24241f" stroke-width="1.25" fill="none"/>
<circle cx="641" cy="645" r="3.6" fill="#b4141a"/>
<text x="621.5" y="722.5" font-size="17.8" textLength="54.5" lengthAdjust="spacingAndGlyphs" fill="#050505" stroke="#050505" stroke-width="0.35">Slotted</text>
<text x="604" y="739" font-size="17.8" textLength="94.5" lengthAdjust="spacingAndGlyphs" fill="#050505" stroke="#050505" stroke-width="0.35">Screwdriver</text>
<path d="M675,779 L675,832.5" stroke="#24241f" stroke-width="1.25" fill="none"/>
<circle cx="675" cy="779" r="3.6" fill="#b4141a"/>
<text x="611" y="854" font-size="17.8" textLength="109" lengthAdjust="spacingAndGlyphs" fill="#050505" stroke="#050505" stroke-width="0.35">Fish Descaler</text>
<path d="M582.5,777.5 L582.5,872.5" stroke="#24241f" stroke-width="1.25" fill="none"/>
<circle cx="582.5" cy="777.5" r="3.6" fill="#b4141a"/>
<text x="574" y="891" font-size="17.8" textLength="27.5" lengthAdjust="spacingAndGlyphs" fill="#050505" stroke="#050505" stroke-width="0.35">File</text>
<path d="M530,762.5 L530,907.5" stroke="#24241f" stroke-width="1.25" fill="none"/>
<circle cx="530" cy="762.5" r="3.6" fill="#b4141a"/>
<text x="506" y="927.5" font-size="17.8" textLength="110" lengthAdjust="spacingAndGlyphs" fill="#050505" stroke="#050505" stroke-width="0.35">Bottle Opener</text>
<path d="M492.5,837.5 L492.5,934" stroke="#24241f" stroke-width="1.25" fill="none"/>
<circle cx="492.5" cy="837.5" r="3.6" fill="#b4141a"/>
<text x="452" y="951.5" font-size="17.8" textLength="70.5" lengthAdjust="spacingAndGlyphs" fill="#050505" stroke="#050505" stroke-width="0.35">Tail Lock</text>
<path d="M400,842.5 L400,931" stroke="#24241f" stroke-width="1.25" fill="none"/>
<circle cx="400" cy="842.5" r="3.6" fill="#b4141a"/>
<text x="375.5" y="949" font-size="17.8" textLength="51" lengthAdjust="spacingAndGlyphs" fill="#050505" stroke="#050505" stroke-width="0.35">Spring</text>
<path d="M323,867 L323,922" stroke="#24241f" stroke-width="1.25" fill="none"/>
<circle cx="323" cy="867" r="3.6" fill="#b4141a"/>
<text x="261.5" y="940" font-size="17.8" textLength="97.5" lengthAdjust="spacingAndGlyphs" fill="#050505" stroke="#050505" stroke-width="0.35">Plier Handle</text>
<path d="M165,757.5 L165,890" stroke="#24241f" stroke-width="1.25" fill="none"/>
<circle cx="165" cy="757.5" r="3.6" fill="#b4141a"/>
<text x="141" y="906" font-size="14.9" textLength="75" lengthAdjust="spacingAndGlyphs" fill="#050505" stroke="#050505" stroke-width="0.35">Wire Cutter</text>
<path d="M121,758.5 L121,911" stroke="#24241f" stroke-width="1.25" fill="none"/>
<circle cx="121" cy="758.5" r="3.6" fill="#b4141a"/>
<text x="80" y="935" font-size="14.9" textLength="94" lengthAdjust="spacingAndGlyphs" fill="#050505" stroke="#050505" stroke-width="0.35">Regular Pliers</text>
<path d="M63,881 L63,951" stroke="#24241f" stroke-width="1.25" fill="none"/>
<text x="31" y="962.5" font-size="14.9" textLength="66" lengthAdjust="spacingAndGlyphs" fill="#050505" stroke="#050505" stroke-width="0.35">Axe cover</text>
</g>
</svg>
</body></html>
